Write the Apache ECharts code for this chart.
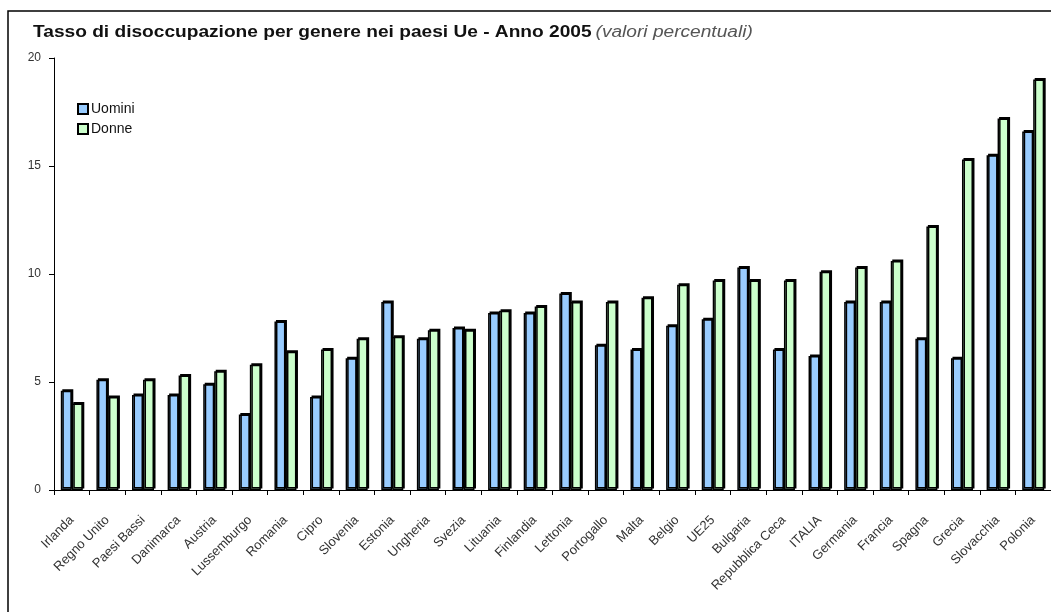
<!DOCTYPE html>
<html>
<head>
<meta charset="utf-8">
<script src="https://cdn.jsdelivr.net/npm/echarts@6/dist/echarts.min.js"></script>
<style>
  html, body { margin: 0; padding: 0; background: #fff; }
  #main { width: 1051px; height: 612px; }
</style>
</head>
<body>
<div id="main"></div>
<script>
// paesi (ordinati per tasso femminile)
var paesi = ['Irlanda', 'Regno Unito', 'Paesi Bassi', 'Danimarca', 'Austria', 'Lussemburgo',
    'Romania', 'Cipro', 'Slovenia', 'Estonia', 'Ungheria', 'Svezia', 'Lituania', 'Finlandia',
    'Lettonia', 'Portogallo', 'Malta', 'Belgio', 'UE25', 'Bulgaria', 'Repubblica Ceca', 'ITALIA',
    'Germania', 'Francia', 'Spagna', 'Grecia', 'Slovacchia', 'Polonia'];
var uomini = [4.6, 5.1, 4.4, 4.4, 4.9, 3.5, 7.8, 4.3, 6.1, 8.7, 7.0, 7.5, 8.2, 8.2,
    9.1, 6.7, 6.5, 7.6, 7.9, 10.3, 6.5, 6.2, 8.7, 8.7, 7.0, 6.1, 15.5, 16.6];
var donne = [4.0, 4.3, 5.1, 5.3, 5.5, 5.8, 6.4, 6.5, 7.0, 7.1, 7.4, 7.4, 8.3, 8.5,
    8.7, 8.7, 8.9, 9.5, 9.7, 9.7, 9.7, 10.1, 10.3, 10.6, 12.2, 15.3, 17.2, 19.0];
var y_ticks = [0, 5, 10, 15, 20];

var font_sans = '"Liberation Sans", Arial, sans-serif';

var chart = echarts.init(document.getElementById('main'));

var bar_style = function(col) { // barre con bordo nero e ombra
    return {
        color: col,
        borderColor: '#000',
        borderWidth: 1.5,
        shadowColor: '#000',
        shadowBlur: 0,
        shadowOffsetX: 1.5,
        shadowOffsetY: -1.5
    };
};

var option = {
    animation: false,
    backgroundColor: '#fff',
    legend: {
        left: 72,
        top: 97,
        orient: 'vertical',
        itemWidth: 10,
        itemHeight: 10,
        itemGap: 6,
        icon: 'rect',
        textStyle: { fontFamily: font_sans, fontSize: 14, lineHeight: 12, color: '#111', padding: [0, 0, 0, -2] },
        data: ['Uomini', 'Donne']
    },
    grid: {
        left: 54,
        right: -11,
        top: 58,
        bottom: 122,
        containLabel: false
    },
    xAxis: {
        type: 'category',
        data: paesi,
        axisLine: { lineStyle: { color: '#000', width: 1 } },
        axisTick: { show: true, length: 5, inside: false, lineStyle: { color: '#000' } },
        axisLabel: {
            rotate: 45,
            interval: 0,
            margin: 28,
            fontFamily: font_sans,
            fontSize: 13,
            color: '#333'
        }
    },
    yAxis: {
        type: 'value',
        min: 0,
        max: 20,
        interval: 5,
        axisLine: { show: true, lineStyle: { color: '#000', width: 1 } },
        axisTick: { show: true, length: 5, lineStyle: { color: '#000' } },
        splitLine: { show: false },
        axisLabel: {
            margin: 13,
            fontFamily: font_sans,
            fontSize: 12,
            color: '#333',
            formatter: function(v) { return y_ticks.indexOf(v) >= 0 ? String(v) : ''; }
        }
    },
    graphic: [{
        type: 'rect',
        shape: { x: 8, y: 11, width: 1200, height: 800 },
        style: { fill: 'none', stroke: '#000', lineWidth: 1.5 },
        silent: true
    }, {
        // titolo, allargato in orizzontale come nell'originale
        type: 'text',
        x: 33,
        y: 25,
        scaleX: 1.195,
        style: {
            text: '{b|Tasso di disoccupazione per genere nei paesi Ue - Anno 2005} {i|(valori percentuali)}',
            rich: {
                b: { fontFamily: font_sans, fontSize: 16, fontWeight: 'bold', fill: '#111' },
                i: { fontFamily: font_sans, fontSize: 16, fontStyle: 'italic', fontWeight: 'normal', fill: '#555' }
            }
        },
        silent: true
    }],
    series: [{
        name: 'Uomini',
        type: 'bar',
        data: uomini,
        barWidth: 11,
        barGap: '0%',
        itemStyle: bar_style('#99ccff')
    }, {
        name: 'Donne',
        type: 'bar',
        data: donne,
        barWidth: 11,
        barGap: '0%',
        itemStyle: bar_style('#ccffcc')
    }]
};

chart.setOption(option);
</script>
</body>
</html>
